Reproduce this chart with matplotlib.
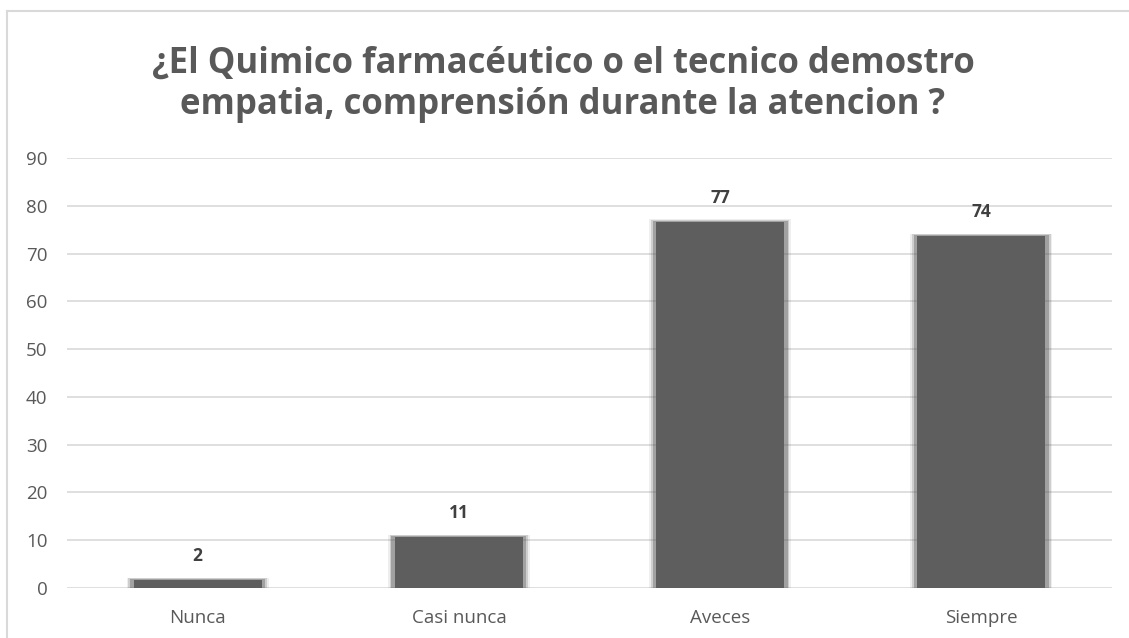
import matplotlib.pyplot as plt
from matplotlib.lines import Line2D

categories = ["Nunca", "Casi nunca", "Aveces", "Siempre"]
values = [2, 11, 77, 74]
title = "¿El Quimico farmacéutico o el tecnico demostro\nempatia, comprensión durante la atencion ?"

W, H = 1129, 638
fig = plt.figure(figsize=(W / 100, H / 100), dpi=100)
plt.rcParams["font.family"] = ["Open Sans", "DejaVu Sans"]

ax = fig.add_axes([67 / W, 1 - 588 / H, (1112 - 67) / W, (588 - 158) / H])

x = list(range(len(categories)))
bar_color = "#5e5e5e"
# soft edge: faint wider layers under the main bar
for k, a in [(0.022, 0.10), (0.015, 0.22), (0.008, 0.4)]:
    ax.bar(x, [v - 0.3 + k * 20 for v in values], width=0.5 + 2 * k,
           color=bar_color, alpha=a, linewidth=0, zorder=2)
ax.bar(x, [v - 0.3 for v in values], width=0.49, color=bar_color,
       linewidth=0, zorder=3)

for xi, v in zip(x, values):
    ax.annotate(str(v), (xi, v), xytext=(0, 16), textcoords="offset points",
                ha="center", va="center", fontsize=12.5, fontweight="bold",
                color="#404040")

ax.set_ylim(0, 90)
ax.set_xlim(-0.5, 3.5)
ax.set_yticks(range(0, 91, 10))
ax.set_xticks(x)
ax.set_xticklabels(categories)
ax.grid(axis="y", color="#d9d9d9", linewidth=1.2, zorder=0)
ax.set_axisbelow(True)
for s in ax.spines.values():
    s.set_visible(False)
ax.tick_params(length=0, labelsize=13.5, labelcolor="#595959")
ax.tick_params(axis="y", pad=14)
ax.tick_params(axis="x", pad=15)

fig.text(563 / W, 1 - 84 / H, title, ha="center", va="center", fontsize=25,
         fontweight="bold", color="#595959", linespacing=1.2)

# chart frame
fig.add_artist(Line2D([7 / W, 7 / W], [0, 1 - 11 / H], color="#d9d9d9", lw=1.5))
fig.add_artist(Line2D([7 / W, 1], [1 - 11 / H, 1 - 11 / H], color="#d9d9d9", lw=1.5))

fig.savefig("out.png", dpi=100)
